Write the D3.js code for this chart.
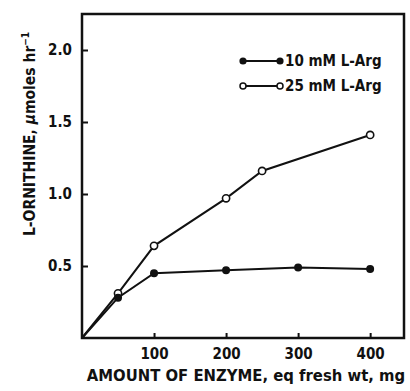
<!DOCTYPE html>
<html>
<head>
<meta charset="utf-8">
<script src="https://cdn.jsdelivr.net/npm/d3@7"></script>
<style>
  body { margin: 0; background: #fff; }
  text { font-family: "DejaVu Sans Condensed", "DejaVu Sans", sans-serif; font-weight: bold; fill: #111; }
</style>
</head>
<body>
<div id="chart"></div>
<script>
// data
const arg10X = [0, 50, 100, 200, 300, 400];
const arg10Y = [0, 0.28, 0.45, 0.47, 0.49, 0.48];
const arg25X = [0, 50, 100, 200, 250, 400];
const arg25Y = [0, 0.31, 0.64, 0.97, 1.16, 1.41];
const xTicks = [100, 200, 300, 400];
const yTicks = [0.5, 1.0, 1.5, 2.0];
const seriesNames = ['10 mM L-Arg', '25 mM L-Arg'];

const width = 410, height = 391;
const margin = { top: 14, right: 6, bottom: 53, left: 82 };
const innerW = width - margin.left - margin.right;
const innerH = height - margin.top - margin.bottom;

const svg = d3.select('#chart').append('svg')
  .attr('width', width)
  .attr('height', height);

const x = d3.scaleLinear().domain([0, 447]).range([0, innerW]);
const y = d3.scaleLinear().domain([0, 2.25]).range([innerH, 0]);

const g = svg.append('g')
  .attr('transform', 'translate(' + margin.left + ',' + margin.top + ')');

/* ----------frame------------*/
g.append('rect')
  .attr('width', innerW)
  .attr('height', innerH)
  .style('fill', 'none')
  .style('stroke', '#111')
  .style('stroke-width', 2.5);

/* ----------axes (ticks point inward)------------*/
const xAxis = g.append('g')
  .attr('transform', 'translate(0,' + innerH + ')')
  .call(d3.axisBottom(x).tickValues(xTicks).tickSizeInner(-5).tickSizeOuter(0).tickPadding(10));
const yAxis = g.append('g')
  .call(d3.axisLeft(y).tickValues(yTicks).tickSizeInner(-6).tickSizeOuter(0).tickPadding(10)
    .tickFormat(d3.format('.1f')));

[xAxis, yAxis].forEach(a => {
  a.select('.domain').remove();
  a.selectAll('.tick line').style('stroke', '#111').style('stroke-width', 2);
  a.selectAll('.tick text')
    .style('font-family', '"DejaVu Sans Condensed", "DejaVu Sans", sans-serif')
    .style('font-weight', 'bold')
    .style('font-size', '15px')
    .style('fill', '#111');
});

/* ----------lines and points------------*/
const line = d3.line()
  .x(d => x(d[0]))
  .y(d => y(d[1]));

const s10 = arg10X.map((v, i) => [v, arg10Y[i]]);
const s25 = arg25X.map((v, i) => [v, arg25Y[i]]);

[s25, s10].forEach(s => {
  g.append('path')
    .datum(s)
    .attr('d', line)
    .style('fill', 'none')
    .style('stroke', '#111')
    .style('stroke-width', 2);
});

g.append('g').selectAll('circle')
  .data(s25.slice(1))
  .enter().append('circle')
  .attr('cx', d => x(d[0]))
  .attr('cy', d => y(d[1]))
  .attr('r', 3.6)
  .style('fill', '#fff')
  .style('stroke', '#111')
  .style('stroke-width', 1.6);

g.append('g').selectAll('circle')
  .data(s10.slice(1))
  .enter().append('circle')
  .attr('cx', d => x(d[0]))
  .attr('cy', d => y(d[1]))
  .attr('r', 4)
  .style('fill', '#111');

/* ----------legend------------*/
const legend = svg.append('g').attr('transform', 'translate(243,61)');
seriesNames.forEach((name, i) => {
  const row = legend.append('g').attr('transform', 'translate(0,' + (i * 25) + ')');
  row.append('line')
    .attr('x1', 0).attr('x2', 37)
    .style('stroke', '#111').style('stroke-width', 1.8);
  [0, 37].forEach(cx => {
    row.append('circle')
      .attr('cx', cx).attr('cy', 0)
      .attr('r', i === 0 ? 3.6 : 3)
      .style('fill', i === 0 ? '#111' : '#fff')
      .style('stroke', '#111')
      .style('stroke-width', i === 0 ? 0 : 1.5);
  });
  row.append('text')
    .attr('x', 42).attr('y', 5)
    .style('font-size', '15px')
    .text(name);
});

/* ----------axis titles------------*/
svg.append('text')
  .attr('x', 246).attr('y', 381)
  .style('text-anchor', 'middle')
  .style('font-size', '16.5px')
  .text('AMOUNT OF ENZYME, eq fresh wt, mg');

svg.append('text')
  .attr('transform', 'translate(35,134) rotate(-90)')
  .style('text-anchor', 'middle')
  .style('font-size', '15.5px')
  .text('L-ORNITHINE, ')
  .append('tspan').text('μ').style('font-style', 'italic')
  .append('tspan').text('moles hr').style('font-style', 'normal')
  .append('tspan').text('−1').attr('dy', -6).style('font-size', '10px');
</script>
</body>
</html>
